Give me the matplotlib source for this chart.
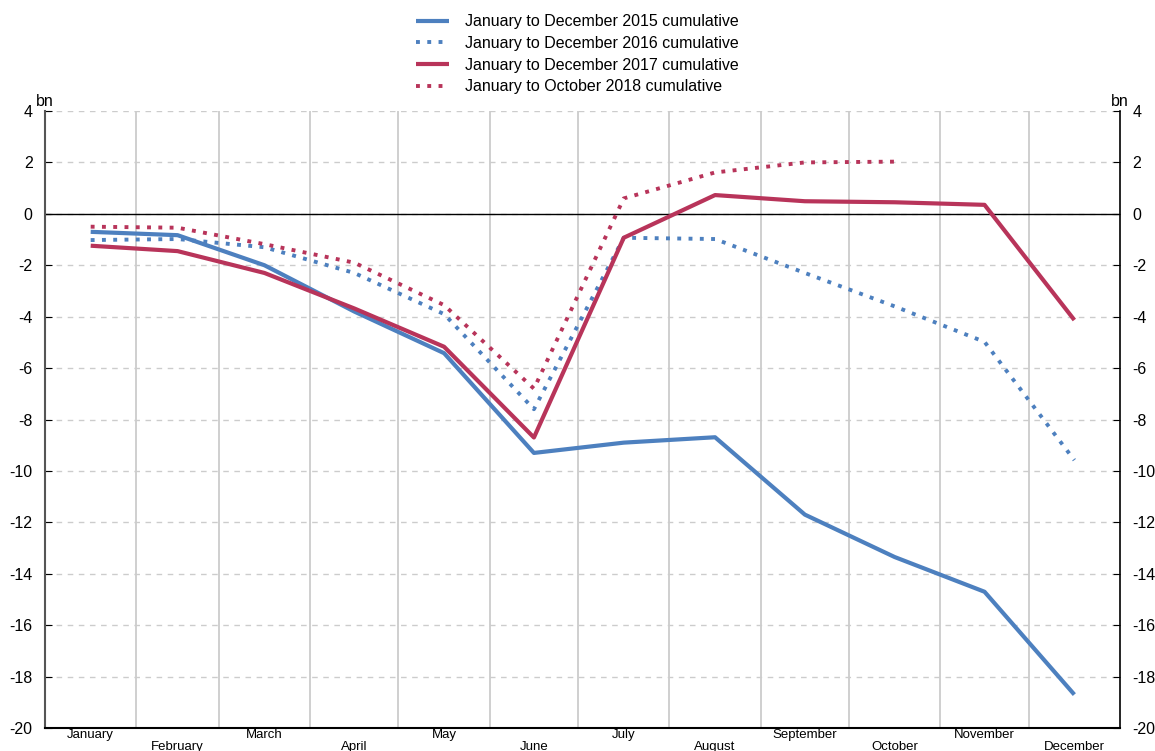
import matplotlib
matplotlib.use("Agg")
import matplotlib.pyplot as plt
import numpy as np

plt.rcParams['font.family'] = ['Liberation Sans', 'DejaVu Sans']
plt.rcParams['axes.unicode_minus'] = False

# --------------------------------------------------------
# Dados (bn, acumulado por mês)
# --------------------------------------------------------
months = ["January", "February", "March", "April", "May", "June",
          "July", "August", "September", "October", "November", "December"]
month_days = [31, 28, 31, 30, 31, 30, 31, 31, 30, 31, 30, 31]

cum_2015 = [-0.70, -0.83, -2.00, -3.80, -5.42, -9.30, -8.90, -8.69, -11.70, -13.35, -14.70, -18.70]
cum_2016 = [-1.02, -0.98, -1.30, -2.30, -3.90, -7.60, -0.93, -0.98, -2.30, -3.60, -4.98, -9.58]
cum_2017 = [-1.24, -1.45, -2.30, -3.68, -5.17, -8.70, -0.93, 0.73, 0.49, 0.45, 0.35, -4.13]
cum_2018 = [-0.50, -0.54, -1.18, -1.90, -3.55, -6.80, 0.60, 1.61, 2.00, 2.03]

labels = ["January to December 2015 cumulative",
          "January to December 2016 cumulative",
          "January to December 2017 cumulative",
          "January to October 2018 cumulative"]

blue = '#4d80bf'
red = '#b8345a'

# posição de cada mês em dias (meio do mês) e fronteiras
edges = np.concatenate([[0], np.cumsum(month_days)])
centers = edges[:-1] + np.array(month_days) / 2

fig = plt.figure(figsize=(11.55, 7.51), dpi=100)
ax = fig.add_axes([0.039, 0.0306, 0.9307, 0.8216])

dots = (0, (1, 1.9))
ax.plot(centers, cum_2015, color=blue, lw=3, label=labels[0], solid_capstyle='butt', zorder=3)
ax.plot(centers, cum_2016, color=blue, lw=2.8, ls=dots, label=labels[1], zorder=3)
ax.plot(centers, cum_2017, color=red, lw=3, label=labels[2], solid_capstyle='butt', zorder=3)
ax.plot(centers[:len(cum_2018)], cum_2018, color=red, lw=2.8, ls=dots, label=labels[3], zorder=3)

ax.axhline(0, color='black', lw=1, zorder=2)

ax.set_xlim(0, 365)
ax.set_ylim(-20, 4)
ax.set_yticks(np.arange(-20, 5, 2))

# grade
ax.set_xticks(edges[1:-1], minor=True)
ax.grid(True, which='minor', axis='x', color='#cccccc', lw=1.3)
ax.grid(True, which='major', axis='y', color='#cccccc', lw=1, ls=(0, (4, 4)))
ax.set_axisbelow(True)

# meses escalonados
ax.set_xticks(centers)
ax.set_xticklabels(months, fontsize=9.5)
for i, tick in enumerate(ax.xaxis.get_major_ticks()):
    tick.set_pad(1 if i % 2 == 0 else 9)
ax.tick_params(axis='x', which='both', length=0)

ax.tick_params(axis='y', direction='in', length=5, labelsize=11.5,
               left=True, right=True, labelleft=True, labelright=True, pad=9)

ax.spines['top'].set_visible(False)
ax.spines['left'].set_color('#555555')
ax.spines['left'].set_linewidth(1.5)
ax.spines['right'].set_linewidth(1.2)
ax.spines['bottom'].set_linewidth(1.5)

ax.text(0.0, 1.004, "bn", transform=ax.transAxes, ha='center', va='bottom', fontsize=11.5)
ax.text(1.0, 1.004, "bn", transform=ax.transAxes, ha='center', va='bottom', fontsize=11.5)

fig.legend(loc='upper center', bbox_to_anchor=(0.5, 0.997), frameon=False,
           fontsize=11.5, handlelength=2.1, handletextpad=1.0, labelspacing=0.42,
           borderaxespad=0.35)

fig.savefig('out.png', dpi=100)
